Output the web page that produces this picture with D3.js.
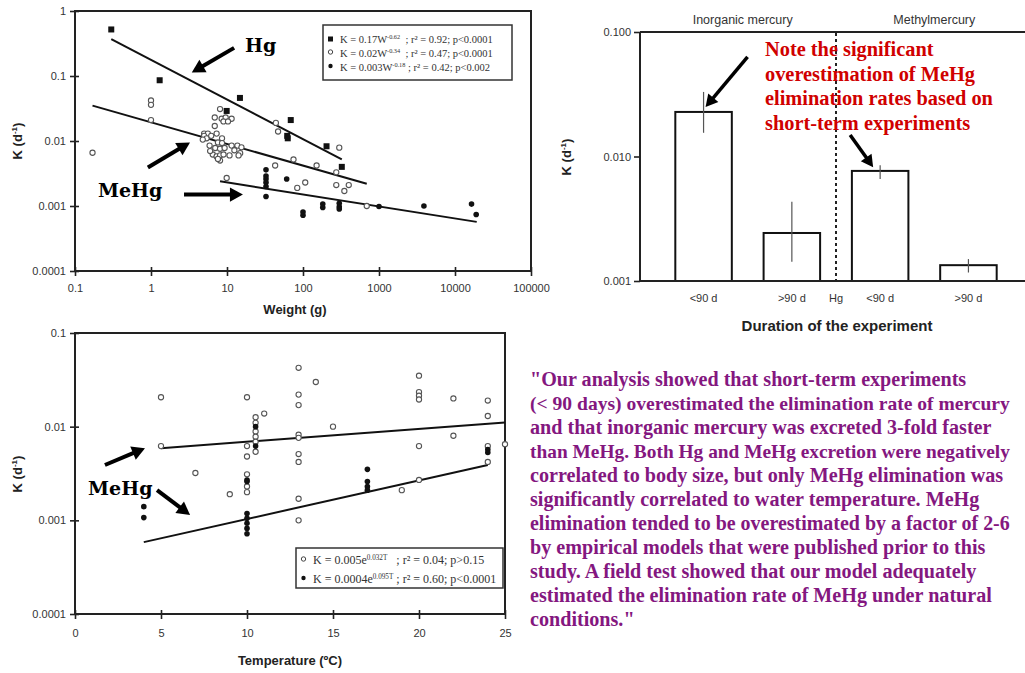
<!DOCTYPE html>
<html>
<head>
<meta charset="utf-8">
<script src="https://cdn.jsdelivr.net/npm/d3@7"></script>
<style>
  body { margin: 0; background: #fff; }
  svg { display: block; }
</style>
</head>
<body>
<script>
// ---- top-left: K vs weight (log-log) ----
var wTicks = [0.1, 1, 10, 100, 1000, 10000, 100000];
var kTicks = [1, 0.1, 0.01, 0.001, 0.0001];

var hgPts = [[0.3, 0.52], [1.3, 0.086], [9.9, 0.029], [14.8, 0.046], [69, 0.021],
             [62, 0.012], [63, 0.011], [204, 0.0083], [324, 0.0040]];

var meOpenPts = [
  [0.17, 0.0066], [1.0, 0.042], [1.0, 0.036], [1.0, 0.021],
  [8.1, 0.031], [6.9, 0.023], [8.5, 0.022], [9.6, 0.023], [11.5, 0.022], [9.0, 0.020], [10.3, 0.020],
  [6.9, 0.017], [7.3, 0.013], [5.0, 0.013], [5.6, 0.013], [5.0, 0.012], [5.4, 0.011], [6.2, 0.012],
  [8.6, 0.011], [7.6, 0.0095], [8.6, 0.0093], [4.8, 0.0105], [5.9, 0.0085], [7.0, 0.0078], [8.1, 0.0076],
  [9.3, 0.0078], [11.5, 0.0085], [13.7, 0.0085], [15.5, 0.0080], [14.9, 0.0065], [14.2, 0.0060],
  [6.5, 0.0062], [7.3, 0.0058], [8.1, 0.0060], [9.0, 0.0062], [10.8, 0.0060], [8.1, 0.0050], [7.6, 0.0053],
  [6.0, 0.0070], [12.5, 0.0072],
  [44, 0.019], [47, 0.014], [43, 0.0042], [75, 0.0052], [151, 0.0042], [274, 0.0033], [300, 0.0079],
  [9.9, 0.0027], [84, 0.0019], [107, 0.0023], [274, 0.0021], [400, 0.0021], [350, 0.0017], [690, 0.0010]
];

var meFillPts = [
  [32.6, 0.0036], [32.6, 0.0029], [32.6, 0.0026], [32.6, 0.0023], [32.6, 0.0020], [32.6, 0.0014],
  [61, 0.0026], [100, 0.00081], [100, 0.00072], [182, 0.00107], [182, 0.00095],
  [300, 0.0011], [300, 0.00097], [300, 0.0009], [1000, 0.00098], [3900, 0.0010],
  [16500, 0.00107], [19000, 0.00074]
];

// fitted lines, end points
var hgFit = [[0.3, 0.37], [324, 0.0052]];
var meOpenFit = [[0.17, 0.035], [690, 0.0022]];
var meFillFit = [[8.1, 0.0024], [19300, 0.00057]];

var legendWeight = [
  ["square", "K = 0.17W", "-0.62", "  ; r\u00b2 = 0.92; p<0.0001"],
  ["open", "K = 0.02W", "-0.34", "  ; r\u00b2 = 0.47; p<0.0001"],
  ["filled", "K = 0.003W", "-0.18", " ; r\u00b2 = 0.42; p<0.002"]
];

// ---- bottom-left: K vs temperature ----
var tTicks = [0, 5, 10, 15, 20, 25];
var kTicks2 = [0.1, 0.01, 0.001, 0.0001];

var tOpenPts = [
  [5, 0.0206], [5, 0.0062], [7, 0.0032], [9, 0.0019],
  [10, 0.0206], [10, 0.0062], [10, 0.0048], [10, 0.0031], [10, 0.0023], [10, 0.0020],
  [10.5, 0.0126], [10.5, 0.011], [10.5, 0.0089], [10.5, 0.0078], [10.5, 0.0069], [10.5, 0.0054],
  [11, 0.0138], [13, 0.0425], [13, 0.022], [13, 0.017], [13, 0.0082], [13, 0.0076], [13, 0.0051],
  [13, 0.0042], [13, 0.0017], [13, 0.0010], [14, 0.030], [15, 0.010], [19, 0.0021],
  [20, 0.035], [20, 0.0234], [20, 0.0214], [20, 0.0195], [20, 0.0062], [20, 0.0027],
  [22, 0.020], [22, 0.0080], [24, 0.019], [24, 0.013], [24, 0.0062], [24, 0.0042], [25, 0.0065]
];

var tFillPts = [
  [4, 0.0014], [4, 0.00107], [10, 0.0027], [10, 0.0026], [10, 0.00118], [10, 0.00105],
  [10, 0.00093], [10, 0.00082], [10, 0.00072], [10.5, 0.010], [10.5, 0.0062],
  [17, 0.0035], [17, 0.0026], [17, 0.0023], [17, 0.0021], [24, 0.0057], [24, 0.0053]
];

var tOpenFit = [[5, 0.0059], [25, 0.0111]];
var tFillFit = [[4, 0.000585], [24, 0.0039]];

var legendTemp = [
  ["open", "K = 0.005e", "0.032T", "   ; r\u00b2 = 0.04; p>0.15"],
  ["filled", "K = 0.0004e", "0.095T", " ; r\u00b2 = 0.60; p<0.0001"]
];

// ---- top-right: bars ----
var barKeys = ["hgShort", "hgLong", "meShort", "meLong"];
var barLabels = ["<90 d", ">90 d", "<90 d", ">90 d"];
var barGroups = ["Inorganic mercury", "Methylmercury"];
var barK = [0.0228, 0.00243, 0.00766, 0.00134];
var barLo = [0.0155, 0.00143, 0.0066, 0.00117];
var barHi = [0.033, 0.00434, 0.0085, 0.00150];
var barTicks = [0.1, 0.01, 0.001];

var noteLines = ["Note the significant", "overestimation of MeHg",
                 "elimination rates based on", "short-term experiments"];

var quoteLines = [
  "\"Our analysis showed that short-term experiments",
  "(< 90 days) overestimated the elimination rate of mercury",
  "and that inorganic mercury was excreted 3-fold faster",
  "than MeHg. Both Hg and MeHg excretion were negatively",
  "correlated to body size, but only  MeHg elimination was",
  "significantly correlated to water temperature.  MeHg",
  "elimination tended to be overestimated by a factor of 2-6",
  "by empirical models that were published prior to this",
  "study. A field test showed that our model adequately",
  "estimated the elimination rate of MeHg under natural",
  "conditions.\""
];

var svg = d3.select("body").append("svg")
  .attr("width", 1025).attr("height", 673)
  .style("font-family", "'Liberation Sans', Arial, sans-serif");
svg.append("rect").attr("width", 1025).attr("height", 673).attr("fill", "#fff");

function arrow(g, x1, y1, x2, y2, w, head) {
  var dx = x2 - x1, dy = y2 - y1, len = Math.hypot(dx, dy);
  var ux = dx / len, uy = dy / len;
  var bx = x2 - ux * head, by = y2 - uy * head, hw = head * 0.55;
  g.append("line").attr("x1", x1).attr("y1", y1)
    .attr("x2", x2 - ux * (head - 2)).attr("y2", y2 - uy * (head - 2))
    .attr("stroke", "#000").attr("stroke-width", w);
  g.append("path")
    .attr("d", "M" + x2 + "," + y2 + "L" + (bx - uy * hw) + "," + (by + ux * hw) +
               "L" + (bx + uy * hw) + "," + (by - ux * hw) + "Z")
    .attr("fill", "#000");
}

function yLabel(x, y) {
  var t = svg.append("text").attr("transform", "translate(" + x + "," + y + ") rotate(-90)")
    .attr("text-anchor", "middle").attr("font-weight", "bold").attr("font-size", 13).attr("fill", "#222");
  t.append("tspan").text("K (d");
  t.append("tspan").attr("font-size", 8).attr("dy", -5).text("-1");
  t.append("tspan").attr("dy", 5).text(")");
}

function styleTicks(g) {
  g.select(".domain").remove();
  g.selectAll(".tick text").attr("font-size", 11).attr("fill", "#333")
    .style("font-family", "'Liberation Sans', Arial, sans-serif");
  g.selectAll(".tick line").attr("stroke", "#222").attr("stroke-width", 1.6);
}

function drawPoints(g, pts, x, y, kind) {
  var sel = g.append("g").selectAll("x").data(pts).enter();
  if (kind === "square") {
    sel.append("rect").attr("x", function (d) { return x(d[0]) - 3; })
      .attr("y", function (d) { return y(d[1]) - 3; })
      .attr("width", 6).attr("height", 6).attr("fill", "#111");
  } else {
    sel.append("circle").attr("cx", function (d) { return x(d[0]); })
      .attr("cy", function (d) { return y(d[1]); })
      .attr("r", kind === "open" ? 2.6 : 2.8)
      .attr("fill", kind === "open" ? "#fff" : "#111")
      .attr("stroke", kind === "open" ? "#555" : "none")
      .attr("stroke-width", 1.1);
  }
}

function drawFit(g, pts, x, y) {
  g.append("path").datum(pts)
    .attr("d", d3.line().x(function (d) { return x(d[0]); }).y(function (d) { return y(d[1]); }))
    .attr("fill", "none").attr("stroke", "#111").attr("stroke-width", 2);
}

function drawLegend(g, rows, x0, y0, w, h, rowY, fs) {
  g.append("rect").attr("x", x0).attr("y", y0).attr("width", w).attr("height", h)
    .attr("fill", "#fff").attr("stroke", "#333").attr("stroke-width", 1.5);
  rows.forEach(function (r, i) {
    var cy = y0 + rowY[i];
    if (r[0] === "square") {
      g.append("rect").attr("x", x0 + 5).attr("y", cy - 2.5).attr("width", 5).attr("height", 5).attr("fill", "#111");
    } else {
      g.append("circle").attr("cx", x0 + 7.5).attr("cy", cy - 1).attr("r", 2.2)
        .attr("fill", r[0] === "open" ? "#fff" : "#111").attr("stroke", r[0] === "open" ? "#444" : "none");
    }
    var t = g.append("text").attr("x", x0 + 17).attr("y", cy + 3.5)
      .attr("font-family", "'Liberation Serif', 'Times New Roman', serif")
      .attr("font-size", fs).attr("fill", "#333").style("white-space", "pre");
    t.append("tspan").text(r[1]);
    t.append("tspan").attr("font-size", fs * 0.6).attr("dy", -4).text(r[2]);
    t.append("tspan").attr("dy", 4).text(r[3]);
  });
}

var serifBold = "'DejaVu Serif', 'Liberation Serif', serif";

// ================= top-left chart =================
var xW = d3.scaleLog().domain([0.1, 100000]).range([75, 531]);
var yK = d3.scaleLog().domain([0.0001, 1]).range([271, 11]);
var g1 = svg.append("g");

g1.append("g").attr("transform", "translate(0,271)")
  .call(d3.axisBottom(xW).tickValues(wTicks).tickFormat(String).tickSize(5).tickPadding(8))
  .call(styleTicks).selectAll(".tick line").attr("y1", -4);
g1.append("g").attr("transform", "translate(75,0)")
  .call(d3.axisLeft(yK).tickValues(kTicks).tickFormat(String).tickSize(5).tickPadding(4))
  .call(styleTicks).selectAll(".tick line").attr("x1", 4);
g1.append("rect").attr("x", 75).attr("y", 11).attr("width", 456).attr("height", 260)
  .attr("fill", "none").attr("stroke", "#222").attr("stroke-width", 2);

drawFit(g1, hgFit, xW, yK);
drawFit(g1, meOpenFit, xW, yK);
drawFit(g1, meFillFit, xW, yK);
drawPoints(g1, meOpenPts, xW, yK, "open");
drawPoints(g1, meFillPts, xW, yK, "filled");
drawPoints(g1, hgPts, xW, yK, "square");
drawLegend(g1, legendWeight, 323, 25, 189, 55, [14, 28, 42], 10.5);

g1.append("text").attr("x", 295).attr("y", 314).attr("text-anchor", "middle")
  .attr("font-weight", "bold").attr("font-size", 13).attr("fill", "#222").text("Weight (g)");
yLabel(22, 141);

// annotations (data coordinates)
g1.append("text").attr("x", xW(17.3)).attr("y", yK(0.235)).attr("font-family", serifBold)
  .attr("font-weight", "bold").attr("font-size", 19).text("Hg");
arrow(g1, xW(12.4), yK(0.271), xW(3.44), yK(0.113), 4, 13);
g1.append("text").attr("x", xW(0.2)).attr("y", yK(0.00136)).attr("font-family", serifBold)
  .attr("font-weight", "bold").attr("font-size", 19).text("MeHg");
arrow(g1, xW(0.91), yK(0.0039), xW(3.26), yK(0.0095), 4, 13);
arrow(g1, xW(2.72), yK(0.0015), xW(16.2), yK(0.0015), 4, 13);

// ================= bottom-left chart =================
var xT = d3.scaleLinear().domain([0, 25]).range([75, 505]);
var yK2 = d3.scaleLog().domain([0.0001, 0.1]).range([614, 333]);
var g2 = svg.append("g");

g2.append("g").attr("transform", "translate(0,614)")
  .call(d3.axisBottom(xT).tickValues(tTicks).tickFormat(String).tickSize(5).tickPadding(10))
  .call(styleTicks).selectAll(".tick line").attr("y1", -4);
g2.append("g").attr("transform", "translate(75,0)")
  .call(d3.axisLeft(yK2).tickValues(kTicks2).tickFormat(String).tickSize(5).tickPadding(4))
  .call(styleTicks).selectAll(".tick line").attr("x1", 4);
g2.append("rect").attr("x", 75).attr("y", 333).attr("width", 430).attr("height", 281)
  .attr("fill", "none").attr("stroke", "#222").attr("stroke-width", 2);

drawFit(g2, tOpenFit, xT, yK2);
drawFit(g2, tFillFit, xT, yK2);
drawPoints(g2, tOpenPts, xT, yK2, "open");
drawPoints(g2, tFillPts, xT, yK2, "filled");
drawLegend(g2, legendTemp, 296, 548, 207, 40, [12, 31], 12);

g2.append("text").attr("x", 290).attr("y", 665).attr("text-anchor", "middle")
  .attr("font-weight", "bold").attr("font-size", 13).attr("fill", "#222").text("Temperature (\u00baC)");
yLabel(22, 474);

g2.append("text").attr("x", xT(0.76)).attr("y", yK2(0.00187)).attr("font-family", serifBold)
  .attr("font-weight", "bold").attr("font-size", 19).text("MeHg");
arrow(g2, xT(1.74), yK2(0.0039), xT(4.07), yK2(0.0059), 4, 13);
arrow(g2, xT(4.77), yK2(0.0021), xT(6.69), yK2(0.00114), 4, 13);

// ================= top-right bar chart =================
var xB = d3.scaleBand().domain(barKeys).range([640, 1032]).paddingInner(0.36).paddingOuter(0.4);
var yB = d3.scaleLog().domain([0.001, 0.1]).range([281, 32]);
var g3 = svg.append("g");
var bw = xB.bandwidth();

g3.append("g").attr("transform", "translate(640,0)")
  .call(d3.axisLeft(yB).tickValues(barTicks).tickFormat(d3.format(".3f")).tickSize(6).tickPadding(3))
  .call(styleTicks);
g3.append("line").attr("x1", 640).attr("x2", 640).attr("y1", 32).attr("y2", 281)
  .attr("stroke", "#222").attr("stroke-width", 2);
g3.append("line").attr("x1", 640).attr("x2", 1025).attr("y1", 32).attr("y2", 32)
  .attr("stroke", "#222").attr("stroke-width", 2);

g3.selectAll("rect.bar").data(barKeys).enter().append("rect").attr("class", "bar")
  .attr("x", function (d) { return xB(d); })
  .attr("y", function (d, i) { return yB(barK[i]); })
  .attr("width", bw)
  .attr("height", function (d, i) { return 281 - yB(barK[i]); })
  .attr("fill", "#fff").attr("stroke", "#111").attr("stroke-width", 2);

g3.selectAll("line.err").data(barKeys).enter().append("line").attr("class", "err")
  .attr("x1", function (d) { return xB(d) + bw / 2; })
  .attr("x2", function (d) { return xB(d) + bw / 2; })
  .attr("y1", function (d, i) { return yB(barLo[i]); })
  .attr("y2", function (d, i) { return yB(barHi[i]); })
  .attr("stroke", "#555").attr("stroke-width", 1.2);

g3.append("line").attr("x1", 640).attr("x2", 1025).attr("y1", 281).attr("y2", 281)
  .attr("stroke", "#222").attr("stroke-width", 2);

var xSplit = (xB(barKeys[1]) + bw + xB(barKeys[2])) / 2;
g3.append("line").attr("x1", xSplit).attr("x2", xSplit).attr("y1", 33).attr("y2", 280)
  .attr("stroke", "#222").attr("stroke-width", 2).attr("stroke-dasharray", "3,3");

g3.selectAll("text.xl").data(barKeys).enter().append("text").attr("class", "xl")
  .attr("x", function (d) { return xB(d) + bw / 2; }).attr("y", 302)
  .attr("text-anchor", "middle").attr("font-size", 11).attr("fill", "#333")
  .text(function (d, i) { return barLabels[i]; });
g3.append("text").attr("x", xSplit).attr("y", 302).attr("text-anchor", "middle")
  .attr("font-size", 11).attr("fill", "#333").text("Hg");

g3.selectAll("text.grp").data(barGroups).enter().append("text").attr("class", "grp")
  .attr("x", function (d, i) {
    return (xB(barKeys[2 * i]) + xB(barKeys[2 * i + 1]) + bw) / 2 + (i === 0 ? -5 : 10);
  })
  .attr("y", 24).attr("text-anchor", "middle").attr("font-size", 12.5).attr("fill", "#333")
  .text(function (d) { return d; });

g3.append("text").attr("x", 837).attr("y", 331).attr("text-anchor", "middle")
  .attr("font-weight", "bold").attr("font-size", 15).attr("fill", "#222")
  .text("Duration of the experiment");
yLabel(571, 157);

// red note and arrows
var note = g3.append("g").attr("font-family", "'Liberation Serif', 'Times New Roman', serif")
  .attr("font-weight", "bold").attr("fill", "#d00000").attr("font-size", 18);
noteLines.forEach(function (s, i) {
  note.append("text").attr("x", 765).attr("y", 56 + i * 24.5).text(s);
});
var nl = note.selectAll("text").nodes()[2].getComputedTextLength();
note.attr("font-size", 18 * 228 / nl);

var c1 = xB(barKeys[0]) + bw / 2, c3 = xB(barKeys[2]) + bw / 2;
arrow(g3, c1 + 44, yB(0.063), c1 + 2, yB(0.025), 3.5, 12);
arrow(g3, c3 - 30, yB(0.0149), c3 - 7, yB(0.0082), 3.5, 12);

// ================= quote =================
var quote = svg.append("g").attr("font-family", "'Liberation Serif', 'Times New Roman', serif")
  .attr("font-weight", "bold").attr("fill", "#84177f").attr("font-size", 18)
  .style("white-space", "pre");
quoteLines.forEach(function (s, i) {
  quote.append("text").attr("x", 530).attr("y", 386 + i * 24).text(s);
});
var ql = quote.selectAll("text").nodes()[6].getComputedTextLength();
var qfs = 18 * 484 / ql;
quote.attr("font-size", qfs);
// shrink any line that would run past the right edge
quote.selectAll("text").each(function () {
  var len = this.getComputedTextLength();
  if (len > 482) d3.select(this).attr("font-size", qfs * 480 / len);
});
</script>
</body>
</html>
